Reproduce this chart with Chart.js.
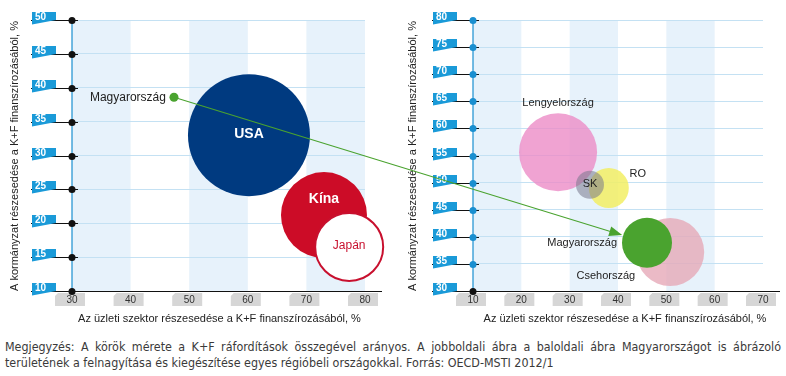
<!DOCTYPE html>
<html>
<head>
<meta charset="utf-8">
<script src="https://cdn.jsdelivr.net/npm/chart.js@4.4.1/dist/chart.umd.min.js"></script>
<style>
	body { margin: 0; background: #fff; width: 786px; height: 376px; overflow: hidden; position: relative; font-family: "Liberation Sans", Arial, sans-serif; }
	#leftWrap { position: absolute; left: 0; top: 0; width: 390px; height: 326px; }
	#rightWrap { position: absolute; left: 395px; top: 0; width: 391px; height: 326px; }
	#arrowLayer { position: absolute; left: 0; top: 0; pointer-events: none; }
	#note { position: absolute; left: 5px; top: 339px; width: 776px; font-size: 12.4px; font-family: "DejaVu Sans Condensed", "Liberation Sans", sans-serif; color: #3a3a3a; line-height: 16px; }
	.l1 { text-align: justify; text-align-last: justify; }
</style>
</head>
<body>
<div id="leftWrap"><canvas id="leftChart" width="390" height="326"></canvas></div>
<div id="rightWrap"><canvas id="rightChart" width="391" height="326"></canvas></div>
<canvas id="arrowLayer" width="786" height="326"></canvas>
<div id="note">
	<div class="l1">Megjegyzés: A körök mérete a K+F ráfordítások összegével arányos. A jobboldali ábra a baloldali ábra Magyarországot is ábrázoló</div>
	<div>területének a felnagyítása és kiegészítése egyes régióbeli országokkal. Forrás: OECD-MSTI 2012/1</div>
</div>
<script>
// BAL OLDALI ÁBRA

const leftCountries = ["USA", "Kína", "Japán", "Magyarország"];
const leftBusiness = [60.2, 73.0, 77.3, 47.4];   // üzleti szektor, %
const leftGov = [33.0, 21.2, 16.5, 38.6];        // kormányzat, %
const leftSize = [61, 43, 34, 4.5];              // kör sugara (K+F ráfordítás)
const leftXTicks = [30, 40, 50, 60, 70, 80];
const leftYTicks = [10, 15, 20, 25, 30, 35, 40, 45, 50];

// JOBB OLDALI ÁBRA (nagyítás)

const rightCountries = ["Lengyelország", "RO", "SK", "Csehország", "Magyarország"];
const rightBusiness = [27.6, 38.1, 34.2, 50.8, 46.0];
const rightGov = [55.6, 49.0, 49.6, 37.2, 38.9];
const rightSize = [39, 20, 14, 34, 25];
const rightXTicks = [10, 20, 30, 40, 50, 60, 70];
const rightYTicks = [30, 35, 40, 45, 50, 55, 60, 65, 70, 75, 80];

const xTitle = "Az üzleti szektor részesedése a K+F finanszírozásából, %";
const yTitle = "A kormányzat részesedése a K+F finanszírozásából, %";

const colors = {
	"USA": "#003a80",
	"Kína": "#cc0c27",
	"Japán": "#ffffff",
	"Magyarország": "#4aa32f",
	"Lengyelország": "rgba(236, 140, 199, 0.8)",
	"RO": "rgba(242, 238, 100, 0.85)",
	"SK": "rgba(120, 120, 140, 0.55)",
	"Csehország": "rgba(230, 169, 184, 0.8)",
};

const leftLabels = {
	"USA": { font: "bold 14px 'Liberation Sans'", color: "#fff", dy: -1 },
	"Kína": { font: "bold 14px 'Liberation Sans'", color: "#fff", dy: -16 },
	"Japán": { font: "12px 'Liberation Sans'", color: "#c8102e", dy: -1 },
	"Magyarország": { font: "12px 'Liberation Sans'", color: "#222", pos: "left", gap: 3.5 },
};
const rightLabels = {
	"Lengyelország": { font: "11px 'Liberation Sans'", color: "#222", pos: "above", gap: 10 },
	"RO": { font: "11px 'Liberation Sans'", color: "#222", dx: 29, dy: -14 },
	"SK": { font: "11px 'Liberation Sans'", color: "#222", dy: -1 },
	"Csehország": { font: "11px 'Liberation Sans'", color: "#222", align: "right", dx: -35, dy: 24 },
	"Magyarország": { font: "11px 'Liberation Sans'", color: "#222", pos: "left", gap: 5 },
};

function line(ctx, x0, y0, x1, y1) {
	ctx.beginPath();
	ctx.moveTo(x0, y0);
	ctx.lineTo(x1, y1);
	ctx.stroke();
}

// sávok, tengelyek, címkék
const infoPlugin = {
	id: "info",
	beforeDraw(chart) {
		const { ctx, chartArea: a, scales: { x } } = chart;
		ctx.save();
		ctx.fillStyle = "#e7f2fb";
		x.ticks.forEach((t, i) => {
			if (i % 2 === 0 && i < x.ticks.length - 1) {
				const x0 = x.getPixelForValue(t.value);
				const x1 = x.getPixelForValue(x.ticks[i + 1].value);
				ctx.fillRect(x0, a.top, x1 - x0, a.bottom - a.top);
			}
		});
		ctx.restore();
	},
	afterDatasetsDraw(chart, args, o) {
		const { ctx } = chart;
		const ds = chart.data.datasets[0];
		ctx.save();
		chart.getDatasetMeta(0).data.forEach((el, i) => {
			const name = chart.data.labels[i];
			const s = o.labels[name];
			const r = ds.data[i].r;
			let px = el.x, py = el.y, align = s.align || "center";
			if (s.pos === "left") { px = el.x - r - s.gap; align = "right"; }
			if (s.pos === "above") { py = el.y - r - s.gap; }
			ctx.font = s.font;
			ctx.fillStyle = s.color;
			ctx.textAlign = align;
			ctx.textBaseline = "middle";
			ctx.fillText(name, px + (s.dx || 0), py + (s.dy || 0));
		});
		ctx.restore();
	},
	afterDraw(chart, args, o) {
		const { ctx, chartArea: a, scales: { x, y } } = chart;
		const bx = a.left - 41;
		ctx.save();
		ctx.lineWidth = 1.2;

		// x tengely
		ctx.strokeStyle = "#111";
		line(ctx, bx, a.bottom + 0.5, a.right + 17, a.bottom + 0.5);
		x.ticks.forEach((t) => {
			const px = x.getPixelForValue(t.value);
			ctx.fillStyle = "#d6d6d6";
			ctx.beginPath();
			ctx.moveTo(px - 17, a.bottom + 5);
			ctx.lineTo(px - 14, a.bottom + 2);
			ctx.lineTo(px + 13, a.bottom + 2);
			ctx.lineTo(px + 13, a.bottom + 15);
			ctx.lineTo(px - 17, a.bottom + 15);
			ctx.closePath();
			ctx.fill();
			ctx.fillStyle = "#333";
			ctx.font = "10px 'Liberation Sans'";
			ctx.textAlign = "center";
			ctx.textBaseline = "middle";
			ctx.fillText(t.value, px, a.bottom + 9.5);
		});

		// y tengely
		ctx.strokeStyle = "#1a8fd0";
		line(ctx, a.left, a.top, a.left, a.bottom);
		y.ticks.forEach((t) => {
			const py = Math.round(y.getPixelForValue(t.value)) + 0.5;
			ctx.strokeStyle = "#111";
			line(ctx, bx, py, a.left + 6, py);
			ctx.fillStyle = "#1a9ad8";
			ctx.beginPath();
			ctx.moveTo(bx + 1, py - 8.5);
			ctx.lineTo(bx + 25, py - 8.5);
			ctx.lineTo(bx + 25, py - 0.5);
			ctx.lineTo(bx + 1, py + 4);
			ctx.closePath();
			ctx.fill();
			ctx.fillStyle = "#fff";
			ctx.font = "bold 10px 'Liberation Sans'";
			ctx.textAlign = "left";
			ctx.textBaseline = "alphabetic";
			ctx.fillText(t.value, bx + 4, py - 0.5);
			ctx.fillStyle = t.value === y.min ? "#111" : o.dotColor;
			ctx.beginPath();
			ctx.arc(a.left, py, 3.5, 0, Math.PI * 2);
			ctx.fill();
		});

		// tengelycímek
		ctx.fillStyle = "#222";
		ctx.font = "11px 'Liberation Sans'";
		ctx.textAlign = "center";
		ctx.textBaseline = "middle";
		ctx.fillText(o.xTitle, (a.left + a.right) / 2 + o.xShift, a.bottom + 28);
		ctx.translate(o.yTitleX, a.bottom);
		ctx.rotate(-Math.PI / 2);
		ctx.textAlign = "left";
		ctx.fillText(o.yTitle, 0, 0);
		ctx.restore();
	},
};

function makeConfig(names, xs, ys, rs, xTicks, yTicks, labels, pad, extra) {
	return {
		type: "bubble",
		data: {
			labels: names,
			datasets: [
				{
					data: names.map((n, i) => ({ x: xs[i], y: ys[i], r: rs[i] })),
					backgroundColor: names.map((n) => colors[n]),
					borderColor: names.map((n) => (n === "Japán" ? "#c8102e" : "rgba(0,0,0,0)")),
					borderWidth: names.map((n) => (n === "Japán" ? 2 : 0)),
					clip: false,
				},
			],
		},
		options: {
			responsive: false,
			animation: false,
			layout: { padding: pad, autoPadding: false },
			plugins: {
				legend: { display: false },
				tooltip: { enabled: false },
				info: Object.assign({ labels: labels, xTitle: xTitle, yTitle: yTitle }, extra),
			},
			scales: {
				x: {
					min: xTicks[0],
					max: xTicks[xTicks.length - 1],
					ticks: { stepSize: xTicks[1] - xTicks[0], display: false },
					grid: { display: false },
					border: { display: false },
					afterFit: (s) => { s.height = 0; },
				},
				y: {
					min: yTicks[0],
					max: yTicks[yTicks.length - 1],
					ticks: { stepSize: yTicks[1] - yTicks[0], display: false },
					grid: { color: "#c4e1f3", drawTicks: false },
					border: { display: false },
					afterFit: (s) => { s.width = 0; },
				},
			},
		},
		plugins: [infoPlugin],
	};
}

const leftChart = new Chart(
	document.getElementById("leftChart"),
	makeConfig(leftCountries, leftBusiness, leftGov, leftSize, leftXTicks, leftYTicks, leftLabels,
		{ left: 72, right: 25, top: 20, bottom: 35 },
		{ dotColor: "#111", xShift: 1, yTitleX: 15 })
);

const rightChart = new Chart(
	document.getElementById("rightChart"),
	makeConfig(rightCountries, rightBusiness, rightGov, rightSize, rightXTicks, rightYTicks, rightLabels,
		{ left: 78, right: 23, top: 20, bottom: 35 },
		{ dotColor: "#1a8fd0", xShift: 7, yTitleX: 18 })
);

// nyíl a bal oldali Magyarországtól a jobb oldali körig
function drawArrow() {
	const ctx = document.getElementById("arrowLayer").getContext("2d");
	const off = document.getElementById("rightWrap").offsetLeft;
	const li = leftCountries.indexOf("Magyarország");
	const ri = rightCountries.indexOf("Magyarország");
	const sx = leftChart.scales.x.getPixelForValue(leftBusiness[li]);
	const sy = leftChart.scales.y.getPixelForValue(leftGov[li]);
	const cx = off + rightChart.scales.x.getPixelForValue(rightBusiness[ri]);
	const cy = rightChart.scales.y.getPixelForValue(rightGov[ri]);
	const len = Math.hypot(cx - sx, cy - sy);
	const ux = (cx - sx) / len, uy = (cy - sy) / len;
	const ex = cx - ux * (rightSize[ri] + 1), ey = cy - uy * (rightSize[ri] + 1);
	ctx.strokeStyle = "#4aa32f";
	ctx.fillStyle = "#4aa32f";
	ctx.lineWidth = 1.1;
	line(ctx, sx, sy, ex - ux * 8, ey - uy * 8);
	ctx.beginPath();
	ctx.moveTo(ex, ey);
	ctx.lineTo(ex - ux * 13 - uy * 5, ey - uy * 13 + ux * 5);
	ctx.lineTo(ex - ux * 13 + uy * 5, ey - uy * 13 - ux * 5);
	ctx.closePath();
	ctx.fill();
}
drawArrow();
</script>
</body>
</html>
